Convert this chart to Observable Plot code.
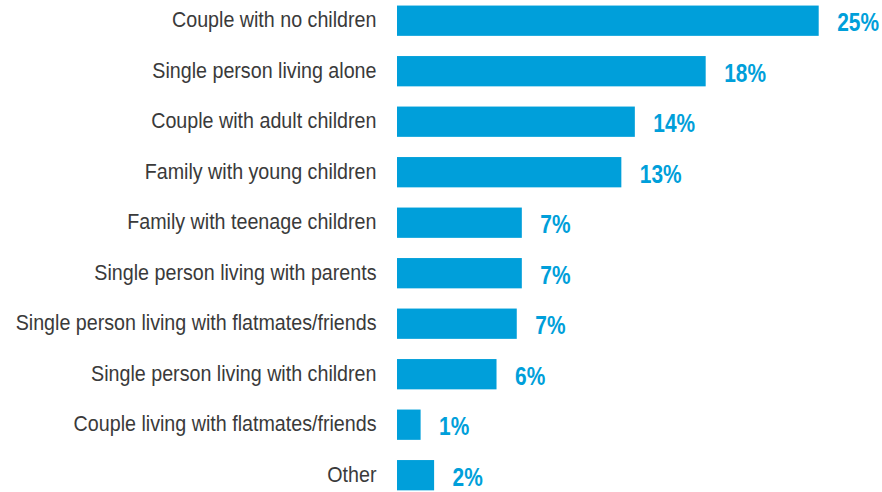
<!DOCTYPE html>
<html>
<head>
<meta charset="utf-8">
<script src="https://cdn.jsdelivr.net/npm/d3@7"></script>
<script src="https://cdn.jsdelivr.net/npm/@observablehq/plot@0.6"></script>
<style>
  html, body { margin: 0; padding: 0; background: #fff; }
  #chart svg { display: block; }
</style>
</head>
<body>
<div id="chart"></div>
<script>
const categories = [
  "Couple with no children",
  "Single person living alone",
  "Couple with adult children",
  "Family with young children",
  "Family with teenage children",
  "Single person living with parents",
  "Single person living with flatmates/friends",
  "Single person living with children",
  "Couple living with flatmates/friends",
  "Other"
];
const values = [25, 18.3, 14.1, 13.3, 7.4, 7.4, 7.1, 5.9, 1.4, 2.2];
const valueLabels = ["25%", "18%", "14%", "13%", "7%", "7%", "7%", "6%", "1%", "2%"];

const data = categories.map((c, i) => ({category: c, value: values[i], label: valueLabels[i]}));

const blue = "#009fda";
const font = "'Liberation Sans', Arial, sans-serif";

const chart = Plot.plot({
  width: 882,
  height: 492,
  marginLeft: 397,
  marginRight: 0,
  marginTop: 0,
  marginBottom: 0,
  style: {fontFamily: font, background: "#fff"},
  x: {domain: [0, 25], range: [397, 818.7], axis: null},
  y: {domain: categories, range: [0.5, 495.4], paddingInner: 0.4, paddingOuter: 0.1, round: false, label: null},
  marks: [
    Plot.barX(data, {x: "value", y: "category", fill: blue}),
    Plot.text(data, {
      x: "value", y: "category", text: "label",
      textAnchor: "start", dx: 18, dy: 2,
      fill: blue, fontWeight: "bold", fontSize: 25.5, fontFamily: font
    }),
    Plot.axisY({tickSize: 0, tickPadding: 21, fontSize: 22, label: null, color: "#3a3a3a", fontFamily: font, dy: -1})
  ]
});

// Condense text horizontally (narrow typeface look), anchored at each text's own position
function condense(el, s) {
  const t = el.getAttribute("transform");
  if (t) {
    el.setAttribute("transform", t + ` scale(${s},1)`);
  } else {
    const x = +el.getAttribute("x") || 0, y = +el.getAttribute("y") || 0;
    el.removeAttribute("x"); el.removeAttribute("y");
    el.setAttribute("transform", `translate(${x},${y}) scale(${s},1)`);
  }
}
d3.select(chart).selectAll("text").each(function () {
  const g = this.closest("g[aria-label]");
  const label = g ? g.getAttribute("aria-label") : "";
  if (label && label.includes("axis")) condense(this, 0.895);
  else condense(this, 0.82);
});

document.getElementById("chart").appendChild(chart);
</script>
</body>
</html>
